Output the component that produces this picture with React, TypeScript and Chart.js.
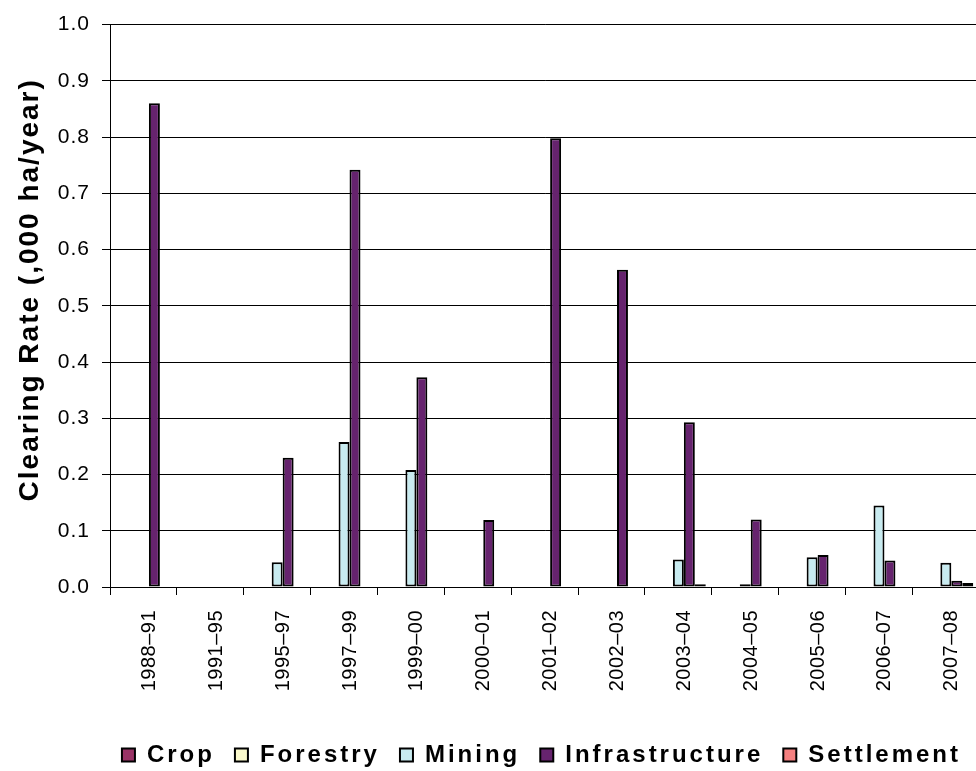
import React, { useEffect, useRef } from "react";
import { Chart, registerables } from "chart.js";

Chart.register(...registerables);

const categories = [
  "1988–91", "1991–95", "1995–97", "1997–99", "1999–00", "2000–01", "2001–02",
  "2002–03", "2003–04", "2004–05", "2005–06", "2006–07", "2007–08",
];
const crop: (number | null)[] = [null, null, null, null, null, null, null, null, null, null, null, null, null];
const forestry: (number | null)[] = [null, null, null, null, null, null, null, null, null, null, null, null, null];
const mining: (number | null)[] = [null, null, 0.044, 0.258, 0.208, null, null, null, 0.049, 0.005, 0.053, 0.145, 0.043];
const infrastructure: (number | null)[] = [0.86, null, 0.23, 0.742, 0.373, 0.119, 0.798, 0.564, 0.293, 0.12, 0.057, 0.047, 0.011];
const settlement: (number | null)[] = [null, null, null, null, null, null, null, null, 0.005, null, null, null, 0.007];

const FONT = "'Liberation Sans', Arial, sans-serif";

function wrapMethod(
  obj: any,
  name: string,
  chart: any,
  spacing: string,
  after?: (o: any) => void,
  shiftY = 0
) {
  if (!obj || typeof obj[name] !== "function") return;
  const key = "__wrapped_" + name;
  if (obj[key]) return;
  const orig = obj[name];
  obj[name] = function (...args: any[]) {
    const ctx: any = chart.ctx;
    const prev = ctx.letterSpacing;
    ctx.save();
    if (shiftY) ctx.translate(0, shiftY);
    ctx.letterSpacing = spacing;
    try {
      return orig.apply(this, args);
    } finally {
      ctx.restore();
      ctx.letterSpacing = prev;
      if (after) after(this);
    }
  };
  obj[key] = true;
}

const spacingPlugin = {
  id: "spacingPlugin",
  beforeLayout(chart: any) {
    const x = chart.scales.x;
    const y = chart.scales.y;
    wrapMethod(x, "drawLabels", chart, "0.5px");
    wrapMethod(y, "drawLabels", chart, "1px");
    wrapMethod(y, "drawTitle", chart, "2px", undefined, -16);
    wrapMethod(chart.legend, "fit", chart, "3px", (l: any) => {
      l.height = 48;
    });
    wrapMethod(chart.legend, "draw", chart, "3px");
  },
};

export default function App() {
  const ref = useRef<HTMLCanvasElement | null>(null);
  useEffect(() => {
    if (!ref.current) return;
    const mk = (label: string, data: (number | null)[], color: string) => ({
      label,
      data,
      backgroundColor: color,
      borderColor: "#000",
      borderWidth: 2,
      borderSkipped: false as const,
      barPercentage: 1,
      categoryPercentage: 0.82,
    });
    const chart = new Chart(ref.current, {
      type: "bar",
      data: {
        labels: categories,
        datasets: [
          mk("Crop", crop, "#993366"),
          mk("Forestry", forestry, "#FBFACC"),
          mk("Mining", mining, "#C8EBF0"),
          mk("Infrastructure", infrastructure, "#66236E"),
          mk("Settlement", settlement, "#F58080"),
        ],
      },
      options: {
        animation: false,
        responsive: false,
        maintainAspectRatio: false,
        layout: { padding: { top: 14, right: 4, bottom: 0, left: 0 } },
        plugins: {
          tooltip: { enabled: false },
          legend: {
            position: "bottom",
            align: "end",
            labels: {
              boxWidth: 13,
              boxHeight: 13,
              padding: 20,
              color: "#000",
              font: { family: FONT, size: 24, weight: "bold" },
            },
          },
        },
        scales: {
          x: {
            offset: true,
            grid: {
              display: true,
              drawOnChartArea: false,
              offset: true,
              color: "#000",
              tickLength: 8,
              lineWidth: 1,
            },
            border: { display: true, color: "#000", width: 1 },
            ticks: {
              autoSkip: false,
              minRotation: 90,
              maxRotation: 90,
              padding: 15,
              labelOffset: 6,
              color: "#000",
              font: { family: FONT, size: 20 },
            },
            afterFit: (s: any) => {
              s.height = 136;
            },
          },
          y: {
            min: 0,
            max: 1,
            grid: { color: "#000", lineWidth: 1, tickLength: 8 },
            border: { display: true, color: "#000", width: 1 },
            ticks: {
              stepSize: 0.1,
              padding: 12,
              color: "#000",
              font: { family: FONT, size: 21 },
              callback: (v: any) => Number(v).toFixed(1),
            },
            title: {
              display: true,
              text: "Clearing Rate (,000 ha/year)",
              color: "#000",
              padding: { top: 13, bottom: 4 },
              font: { family: FONT, size: 28, weight: "bold" },
            },
            afterFit: (s: any) => {
              s.width = 110;
            },
          },
        },
      },
      plugins: [spacingPlugin],
    } as any);
    return () => chart.destroy();
  }, []);
  return (
    <div
      style={{
        position: "fixed",
        left: 0,
        top: 0,
        width: 976,
        height: 771,
        overflow: "hidden",
        background: "#fff",
      }}
    >
      <canvas ref={ref} width={985} height={771} style={{ display: "block", width: 985, height: 771 }} />
    </div>
  );
}
